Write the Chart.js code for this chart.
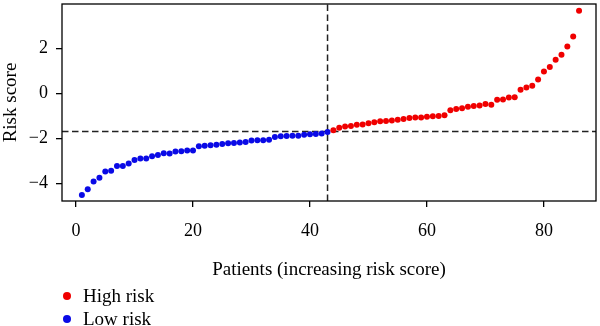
<!DOCTYPE html>
<html>
<head>
<meta charset="utf-8">
<script src="https://cdn.jsdelivr.net/npm/chart.js@4.4.0/dist/chart.umd.min.js"></script>
<style>
  html, body { margin: 0; padding: 0; background: #fff; }
  #wrap { position: relative; width: 600px; height: 326px; }
  #c { position: absolute; left: 0; top: 0; }
  #legend { position: absolute; left: 63px; top: 284px; font: 19px "Liberation Serif", serif; color: #000; }
  #legend .item { height: 23.5px; display: flex; align-items: center; white-space: nowrap; }
  #legend .dot { width: 8px; height: 8px; border-radius: 50%; margin-right: 12px; }
</style>
</head>
<body>
<div id="wrap">
  <canvas id="c" width="600" height="326"></canvas>
  <div id="legend"></div>
</div>
<script>
// Risk scores of the patients, sorted ascending
const lowRiskScores = [
  -4.51, -4.26, -3.91, -3.75, -3.47, -3.44, -3.23, -3.23, -3.12, -2.96,
  -2.89, -2.90, -2.80, -2.74, -2.66, -2.67, -2.58, -2.57, -2.54, -2.54,
  -2.35, -2.33, -2.31, -2.28, -2.25, -2.22, -2.21, -2.19, -2.16, -2.10,
  -2.09, -2.09, -2.06, -1.94, -1.91, -1.90, -1.88, -1.88, -1.84, -1.82,
  -1.81, -1.78, -1.72
];
const highRiskScores = [
  -1.64, -1.53, -1.47, -1.45, -1.40, -1.39, -1.33, -1.29, -1.24, -1.23,
  -1.21, -1.18, -1.14, -1.10, -1.07, -1.07, -1.04, -1.02, -1.01, -0.98,
  -0.75, -0.70, -0.66, -0.60, -0.56, -0.54, -0.48, -0.51, -0.29, -0.28,
  -0.19, -0.18, 0.16, 0.26, 0.33, 0.61, 0.96, 1.16, 1.49, 1.71,
  2.08, 2.52, 3.66
];
const riskCutoff = -1.70;          // median risk score
const cutoffPatient = 43;          // last low-risk patient
const xTickValues = [0, 20, 40, 60, 80];
const yTickValues = [-4, -2, 0, 2];
const seriesLabels = ['High risk', 'Low risk'];
const seriesColors = ['#f00000', '#0a0ae6'];

const xRange = [-2.4, 88.9];
const yRange = [-4.78, 3.96];

const lowPoints = lowRiskScores.map((v, i) => ({ x: i + 1, y: v }));
const highPoints = highRiskScores.map((v, i) => ({ x: lowRiskScores.length + i + 1, y: v }));

const serif = '"Liberation Serif", "Times New Roman", serif';

const frame = {
  id: 'frame',
  afterDatasetsDraw(chart) {
    const { ctx, chartArea: a } = chart;
    ctx.save();
    ctx.strokeStyle = '#000';
    ctx.lineWidth = 1.3;
    ctx.strokeRect(a.left, a.top, a.right - a.left, a.bottom - a.top);
    ctx.restore();
  }
};

const dashStyle = {
  type: 'line', showLine: true, pointRadius: 0, borderColor: '#222',
  borderWidth: 1.5, borderDash: [6.5, 3.5], fill: false, order: 5
};

const chart = new Chart(document.getElementById('c'), {
  type: 'scatter',
  data: {
    datasets: [
      { label: seriesLabels[0], data: highPoints, backgroundColor: seriesColors[0],
        pointRadius: 3, borderWidth: 0, order: 1 },
      { label: seriesLabels[1], data: lowPoints, backgroundColor: seriesColors[1],
        pointRadius: 3, borderWidth: 0, order: 1 },
      Object.assign({ label: 'cutoff-h', data: [{ x: xRange[0], y: riskCutoff }, { x: xRange[1], y: riskCutoff }] }, dashStyle),
      Object.assign({ label: 'cutoff-v', data: [{ x: cutoffPatient, y: yRange[0] }, { x: cutoffPatient, y: yRange[1] }] }, dashStyle)
    ]
  },
  options: {
    responsive: false,
    animation: false,
    devicePixelRatio: 1,
    layout: { padding: { top: 1, right: 3, left: 0, bottom: 0 } },
    plugins: { legend: { display: false }, tooltip: { enabled: false } },
    events: [],
    scales: {
      x: {
        type: 'linear', min: xRange[0], max: xRange[1],
        afterBuildTicks: s => { s.ticks = xTickValues.map(v => ({ value: v })); },
        afterFit: s => { s.height = 125; s.paddingLeft = 0; s.paddingRight = 0; },
        border: { display: false },
        grid: { drawOnChartArea: false, drawTicks: true, tickLength: 6, color: '#000', lineWidth: 1.3 },
        ticks: { color: '#000', font: { family: serif, size: 18 }, padding: 13, maxRotation: 0,
                 callback: v => String(v).replace('-', '\u2212') },
        title: { display: true, text: 'Patients (increasing risk score)', color: '#000',
                 font: { family: serif, size: 19 }, padding: { top: 0, bottom: 45 } }
      },
      y: {
        type: 'linear', min: yRange[0], max: yRange[1],
        afterBuildTicks: s => { s.ticks = yTickValues.map(v => ({ value: v })); },
        afterFit: s => { s.width = 62; s.paddingTop = 0; s.paddingBottom = 0; },
        border: { display: false },
        grid: { drawOnChartArea: false, drawTicks: true, tickLength: 6, color: '#000', lineWidth: 1.3 },
        ticks: { color: '#000', font: { family: serif, size: 18 }, padding: 8,
                 callback: v => String(v).replace('-', '\u2212') },
        title: { display: true, text: 'Risk score', color: '#000',
                 font: { family: serif, size: 19 }, padding: { top: 0, bottom: 0 } }
      }
    }
  },
  plugins: [frame]
});

// Legend built from the two score series
const legend = document.getElementById('legend');
chart.data.datasets.slice(0, 2).forEach(ds => {
  const item = document.createElement('div');
  item.className = 'item';
  const dot = document.createElement('span');
  dot.className = 'dot';
  dot.style.background = ds.backgroundColor;
  const txt = document.createElement('span');
  txt.textContent = ds.label;
  item.appendChild(dot);
  item.appendChild(txt);
  legend.appendChild(item);
});
</script>
</body>
</html>
